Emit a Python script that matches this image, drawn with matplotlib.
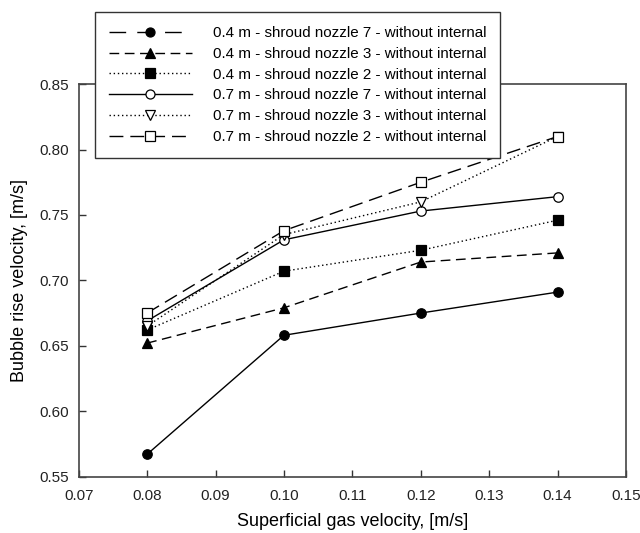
import matplotlib
matplotlib.use('Agg')
import matplotlib.pyplot as plt
from matplotlib.lines import Line2D

plt.rcParams['font.family'] = ['Liberation Sans', 'DejaVu Sans']

# superficial gas velocity [m/s]
x = [0.08, 0.10, 0.12, 0.14]

# bubble rise velocity [m/s]
s04_n7 = [0.567, 0.658, 0.675, 0.691]
s04_n3 = [0.652, 0.679, 0.714, 0.721]
s04_n2 = [0.662, 0.707, 0.723, 0.746]
s07_n7 = [0.669, 0.731, 0.753, 0.764]
s07_n3 = [0.665, 0.735, 0.760, 0.810]
s07_n2 = [0.675, 0.738, 0.775, 0.810]

labels = ['0.4 m - shroud nozzle 7 - without internal',
          '0.4 m - shroud nozzle 3 - without internal',
          '0.4 m - shroud nozzle 2 - without internal',
          '0.7 m - shroud nozzle 7 - without internal',
          '0.7 m - shroud nozzle 3 - without internal',
          '0.7 m - shroud nozzle 2 - without internal']

fig = plt.figure(figsize=(6.4, 5.33), dpi=100)
ax = fig.add_axes([0.123, 0.106, 0.855, 0.736])

dot = (0, (1, 2))
med = (0, (7, 4))
lng = (0, (10, 5))

# (data, plot linestyle, legend linestyle, marker, facecolor)
series = [
    (s04_n7, '-', (0, (12, 8)), 'o', 'black'),
    (s04_n3, med, med, '^', 'black'),
    (s04_n2, dot, dot, 's', 'black'),
    (s07_n7, '-', '-', 'o', 'white'),
    (s07_n3, dot, dot, 'v', 'white'),
    (s07_n2, lng, lng, 's', 'white'),
]

handles = []
for (y, ls, lls, m, fc) in series:
    ax.plot(x, y, linestyle=ls, color='black', linewidth=1.0,
            marker=m, markersize=6.8, markerfacecolor=fc,
            markeredgecolor='black', markeredgewidth=0.9)
    handles.append(Line2D([], [], linestyle=lls, color='black', linewidth=1.0,
                          marker=m, markersize=6.5, markerfacecolor=fc,
                          markeredgecolor='black', markeredgewidth=0.9))

ax.set_xlim(0.07, 0.15)
ax.set_ylim(0.55, 0.85)
ax.set_xticks([0.07, 0.08, 0.09, 0.10, 0.11, 0.12, 0.13, 0.14, 0.15])
ax.set_yticks([0.55, 0.60, 0.65, 0.70, 0.75, 0.80, 0.85])
ax.xaxis.set_major_formatter(plt.FormatStrFormatter('%.2f'))
ax.yaxis.set_major_formatter(plt.FormatStrFormatter('%.2f'))
ax.tick_params(direction='in', length=5, width=1, colors='#333333',
               labelsize=11, labelcolor='#222222')
ax.tick_params(axis='x', pad=9)
ax.tick_params(axis='y', pad=7)
for sp in ax.spines.values():
    sp.set_color('#444444')
    sp.set_linewidth(1.2)

ax.set_xlabel('Superficial gas velocity, [m/s]', fontsize=13, labelpad=7)
ax.set_ylabel('Bubble rise velocity, [m/s]', fontsize=13, labelpad=8)

leg = ax.legend(handles, labels, loc='upper left', bbox_to_anchor=(0.030, 1.183),
                fontsize=10.9, frameon=True, fancybox=False, framealpha=1,
                handlelength=5.5, handletextpad=1.4, labelspacing=0.45,
                borderpad=0.9, borderaxespad=0)
leg.get_frame().set_edgecolor('#333333')
leg.get_frame().set_linewidth(1.0)

fig.savefig('out.png', dpi=100)
